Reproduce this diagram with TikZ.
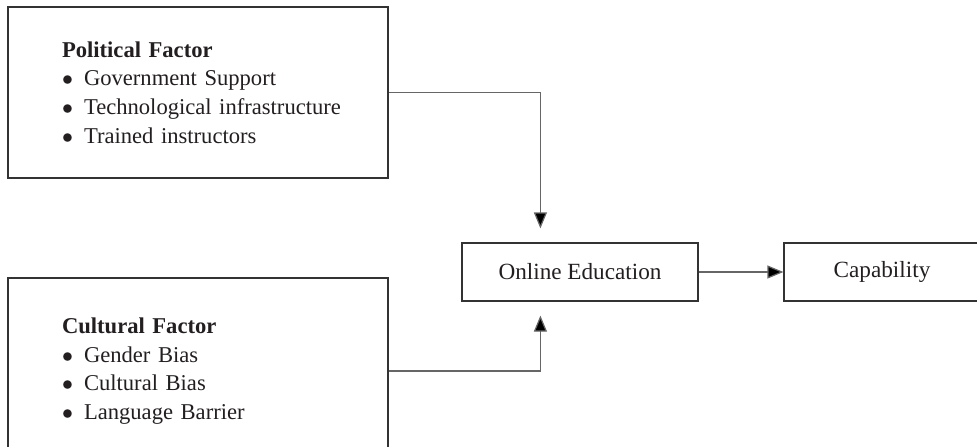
\documentclass[tikz,border=0pt]{standalone}
\usepackage{fontspec}
\setmainfont{Liberation Serif}
\usepackage{tikz}
\usetikzlibrary{arrows.meta}

\definecolor{boxline}{HTML}{333333}
\definecolor{linkline}{HTML}{666666}
\definecolor{ink}{HTML}{231F20}

\newcommand{\bul}[1]{\mbox{\makebox[11pt][l]{$\bullet$}#1}}

\begin{document}
\begin{tikzpicture}[x=0.5pt, y=0.5pt,
    factorbox/.style={draw=boxline, line width=0.6pt, text=ink, align=left,
      text width=136pt, inner xsep=27pt, minimum height=#1,
      font=\fontsize{11.3}{14.3}\selectfont},
    stagebox/.style={draw=boxline, line width=0.6pt, text=ink, minimum height=29pt,
      font=\fontsize{11.6}{14}\selectfont},
    link/.style={draw=linkline, line width=0.6pt,
      -{Triangle[length=8pt, width=6.5pt, fill=black]}}]
      \clip (0, 0) rectangle (977, 446);
      \node [factorbox=85.5pt] (pol) at (198, 353.5) {\textbf{Political Factor}\\
        \bul{Government Support}\\ \bul{Technological infrastructure}\\ \bul{Trained instructors}};
      \node [factorbox=93pt] (cul) at (198, 75) {\textbf{Cultural Factor}\\
        \bul{Gender Bias}\\ \bul{Cultural Bias}\\ \bul{Language Barrier}};
      \node [stagebox, minimum width=118pt] (online) at (580, 174) {Online Education};
      \node [stagebox, minimum width=98pt] (cap) at (882, 174) {Capability};
      \coordinate (top) at ([xshift=39.5pt, yshift=7pt]online.north west);
      \coordinate (bot) at ([xshift=39.5pt, yshift=-7pt]online.south west);
      \draw [link] (pol.east) -| (top);
      \draw [link] (cul.east) -| (bot);
      \draw [link] (online) -- (cap);
    \end{tikzpicture}
\end{document}
